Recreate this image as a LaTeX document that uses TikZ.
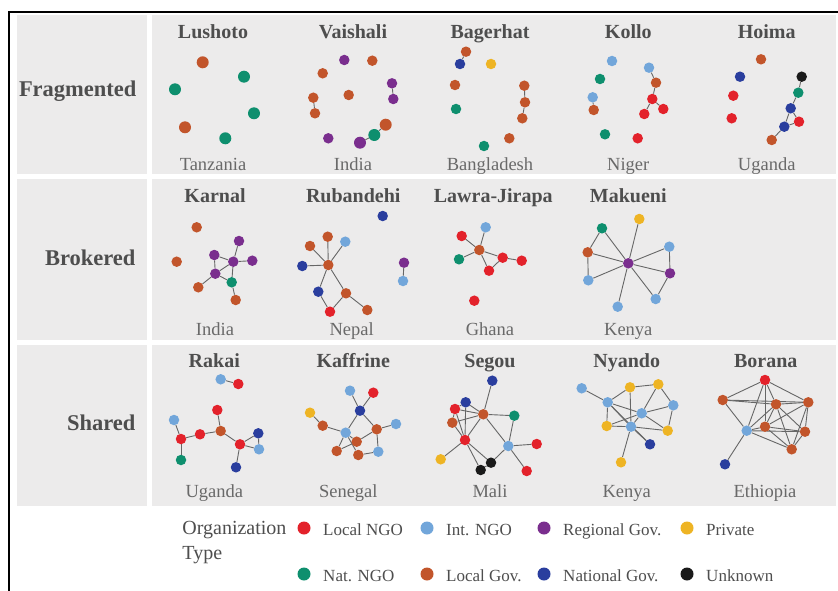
\documentclass[tikz,border=0pt]{standalone}
\usepackage{fontspec}
\setmainfont{Liberation Serif}
\usetikzlibrary{positioning}
\usepackage{xcolor}

\definecolor{lngo}{HTML}{E3222B}
\definecolor{ingo}{HTML}{72A6DA}
\definecolor{rgov}{HTML}{7A2E8E}
\definecolor{priv}{HTML}{EEB424}
\definecolor{nngo}{HTML}{0E8F6E}
\definecolor{lgov}{HTML}{C2552B}
\definecolor{ngov}{HTML}{2A3E9E}
\definecolor{unkn}{HTML}{1A1A1A}
\definecolor{panel}{HTML}{ECEBEB}
\definecolor{txt}{HTML}{4E4E4E}

\pgfdeclarelayer{back}
\pgfdeclarelayer{edges}
\pgfsetlayers{back,edges,main}

\tikzset{
  org/.style={circle, fill=#1, inner sep=0pt, minimum size=10.5pt},
  big/.style={minimum size=12pt},
  link/.style={draw=black!60, line width=0.9pt},
  title/.style={anchor=base, font=\fontsize{20}{22}\selectfont\bfseries, text=txt},
  place/.style={anchor=base, font=\fontsize{18.5}{20}\selectfont, text=txt!85},
  rowlab/.style={anchor=base east, font=\fontsize{22.5}{25}\selectfont\bfseries, text=txt},
  keydot/.style={circle, fill=#1, inner sep=0pt, minimum size=13pt},
  keytext/.style={anchor=base west, font=\fontsize{17}{19}\selectfont, text=txt},
}

\begin{document}
\begin{tikzpicture}[x=1pt, y=-1pt]
\useasboundingbox (0,0) rectangle (838,591);

% =================== panels and frame ===================
\begin{pgfonlayer}{back}
\fill[white] (0,0) rectangle (838,591);
\foreach \ya/\yb in {15/174, 179/340, 345/506}{
  \fill[panel] (17,\ya) rectangle (147,\yb);
  \fill[panel] (152,\ya) rectangle (836,\yb);
}
\draw[line width=2.5pt] (9,591) -- (9,12) -- (838,12);
\end{pgfonlayer}

\node[rowlab] (rFrag) at (140,97) {Fragmented};
\node[rowlab] (rBrok) at (139,265) {Brokered};
\node[rowlab] (rShar) at (139,430) {Shared};

% =================== Fragmented ===================

% Lushoto
\foreach \n/\x/\y/\c in {Lu1/202.7/62.3/lgov, Lu2/244/76.7/nngo, Lu3/175/89.3/nngo,
  Lu4/254/113.3/nngo, Lu5/185/127.3/lgov, Lu6/225.3/138.3/nngo}
  \node[org=\c, big] (\n) at (\x,\y) {};
\node[title] (tLu) at (213,38.5) {Lushoto};
\node[place] (cLu) at (213,171) {Tanzania};

% Vaishali
\foreach \n/\x/\y/\c in {Va1/344.3/60/rgov, Va2/372.3/60.7/lgov, Va3/322.7/73.3/lgov,
  Va4/392/83.3/rgov, Va5/393.3/99/rgov, Va6/313.3/97.7/lgov, Va7/315/113.3/lgov,
  Va8/348.7/95/lgov, Va12/328.3/138.3/rgov}
  \node[org=\c] (\n) at (\x,\y) {};
\foreach \n/\x/\y/\c in {Va9/385.7/124.7/lgov, Va10/374.3/135/nngo, Va11/360/142.7/rgov}
  \node[org=\c, big] (\n) at (\x,\y) {};
\node[title] (tVa) at (353,38.5) {Vaishali};
\node[place] (cVa) at (353,171) {India};

% Bagerhat
\foreach \n/\x/\y/\c in {Ba1/466/51.7/lgov, Ba2/460/64/ngov, Ba3/491/64/priv,
  Ba4/455/85/lgov, Ba5/456/109/nngo, Ba6/524.3/85.7/lgov, Ba7/525/102.3/lgov,
  Ba8/522.3/118.3/lgov, Ba9/509.3/138.3/lgov, Ba10/484/146/nngo}
  \node[org=\c] (\n) at (\x,\y) {};
\node[title] (tBa) at (490,38.5) {Bagerhat};
\node[place] (cBa) at (490,171) {Bangladesh};

% Kollo
\foreach \n/\x/\y/\c in {Ko1/612/61/ingo, Ko2/649/67.7/ingo, Ko3/656/82.7/lgov,
  Ko4/600/79/nngo, Ko5/592.7/97.3/ingo, Ko6/593.7/110/lgov, Ko7/652.3/99/lngo,
  Ko8/644.3/114/lngo, Ko9/663.3/109/lngo, Ko10/605/134.3/nngo, Ko11/637.7/138.3/lngo}
  \node[org=\c] (\n) at (\x,\y) {};
\node[title] (tKo) at (628.3,38.5) {Kollo};
\node[place] (cKo) at (628.3,171) {Niger};

% Hoima
\foreach \n/\x/\y/\c in {Ho1/761/59.3/lgov, Ho2/740/76.7/ngov, Ho3/801.7/76.7/unkn,
  Ho4/798.3/92.7/nngo, Ho5/733.3/95.7/lngo, Ho6/790.7/108.3/ngov, Ho7/799/121.7/lngo,
  Ho8/731.7/118.3/lngo, Ho9/784.3/126.7/ngov, Ho10/771.7/140/lgov}
  \node[org=\c] (\n) at (\x,\y) {};
\node[title] (tHo) at (766.7,38.5) {Hoima};
\node[place] (cHo) at (766.7,171) {Uganda};

% =================== Brokered ===================

% Karnal
\foreach \n/\x/\y/\c in {Ka1/196.7/227.3/lgov, Ka2/239/241/rgov, Ka3/214.3/255/rgov,
  Ka4/233.3/261.7/rgov, Ka5/252.3/260.7/rgov, Ka6/176.7/261.7/lgov, Ka7/215.3/273.7/rgov,
  Ka8/231.7/282.3/nngo, Ka9/198.3/287.3/lgov, Ka10/235.7/300/lgov}
  \node[org=\c] (\n) at (\x,\y) {};
\node[title] (tKa) at (215,202) {Karnal};
\node[place] (cKa) at (215,335) {India};

% Rubandehi
\foreach \n/\x/\y/\c in {Ru1/382.7/216/ngov, Ru2/327.7/236.7/lgov, Ru3/345.3/241.7/ingo,
  Ru4/310/246/lgov, Ru5/328.3/265/lgov, Ru6/302.3/266/ngov, Ru7/404/262.7/rgov,
  Ru8/403/281/ingo, Ru9/318.3/291.7/ngov, Ru10/346/293.3/lgov, Ru11/330/311.7/lngo,
  Ru12/367.3/310/lgov}
  \node[org=\c] (\n) at (\x,\y) {};
\node[title] (tRu) at (353.3,202) {Rubandehi};
\node[place] (cRu) at (351.7,335) {Nepal};

% Lawra-Jirapa
\foreach \n/\x/\y/\c in {LJ1/485.7/227.3/ingo, LJ2/461.7/236/lngo, LJ3/479.3/250/lgov,
  LJ4/459/259.3/nngo, LJ5/502.7/257.7/lngo, LJ6/521.7/260.7/lngo, LJ7/489/270.7/lngo,
  LJ8/474.3/300.7/lngo}
  \node[org=\c] (\n) at (\x,\y) {};
\node[title] (tLJ) at (493.3,202) {Lawra-Jirapa};
\node[place] (cLJ) at (490,335) {Ghana};

% Makueni
\foreach \n/\x/\y/\c in {Ma1/639.3/219/priv, Ma2/602/228.3/nngo, Ma3/669.3/246.7/ingo,
  Ma4/587.7/252.3/lgov, Ma5/628.3/263.3/rgov, Ma6/670/273.3/rgov, Ma7/588.3/280.3/ingo,
  Ma8/655.7/299/ingo, Ma9/617.7/306.7/ingo}
  \node[org=\c] (\n) at (\x,\y) {};
\node[title] (tMa) at (628.3,202) {Makueni};
\node[place] (cMa) at (628.3,335) {Kenya};

% =================== Shared ===================

% Rakai
\foreach \n/\x/\y/\c in {Ra1/220.7/379.3/ingo, Ra2/238.3/384/lngo, Ra3/217.3/410/lngo,
  Ra4/174/420/ingo, Ra5/220.7/431/lgov, Ra6/200/434.3/lngo, Ra7/181/439/lngo,
  Ra8/258.3/433.3/ngov, Ra9/240/444.3/lngo, Ra10/259/449.3/ingo, Ra11/181/460/nngo,
  Ra12/236/467.3/ngov}
  \node[org=\c] (\n) at (\x,\y) {};
\node[title] (tRa) at (214.3,367) {Rakai};
\node[place] (cRa) at (214.3,497) {Uganda};

% Kaffrine
\foreach \n/\x/\y/\c in {Kf1/350/390.7/ingo, Kf2/373.3/392.7/lngo, Kf3/360/410.7/ngov,
  Kf4/310/412.7/priv, Kf5/322.7/425.7/lgov, Kf6/396/424/ingo, Kf7/376.7/429.3/lgov,
  Kf8/345.7/432.7/ingo, Kf9/356.7/441.7/lgov, Kf10/336.7/451/lgov, Kf11/378.3/451.7/ingo,
  Kf12/358.3/455/lgov}
  \node[org=\c] (\n) at (\x,\y) {};
\node[title] (tKf) at (353.3,367) {Kaffrine};
\node[place] (cKf) at (348.3,497) {Senegal};

% Segou
\foreach \n/\x/\y/\c in {Se1/492.3/380.7/ngov, Se2/465.7/402.3/ngov, Se3/455/409/lngo,
  Se4/483.3/414.3/lgov, Se5/514.3/415.7/nngo, Se6/452.3/422.7/lgov, Se7/465/440/lngo,
  Se8/508.3/446/ingo, Se9/536.7/444/lngo, Se10/440.7/459.3/priv, Se11/491/462.7/unkn,
  Se12/480.7/470/unkn, Se13/526.7/471/lngo}
  \node[org=\c] (\n) at (\x,\y) {};
\node[title] (tSe) at (490,367) {Segou};
\node[place] (cSe) at (490,497) {Mali};

% Nyando
\foreach \n/\x/\y/\c in {Ny1/581.7/388.3/ingo, Ny2/630/387.3/priv, Ny3/658.3/384.3/priv,
  Ny4/607.7/402.3/ingo, Ny5/673.3/405.3/ingo, Ny6/641.7/413.3/ingo, Ny7/606.7/426/priv,
  Ny8/631/426.7/ingo, Ny9/667.7/430.7/priv, Ny10/650/444.3/ngov, Ny11/621/462.3/priv}
  \node[org=\c] (\n) at (\x,\y) {};
\node[title] (tNy) at (626.7,367) {Nyando};
\node[place] (cNy) at (626.7,497) {Kenya};

% Borana
\foreach \n/\x/\y/\c in {Bo1/765/380/lngo, Bo2/722.7/400/lgov, Bo3/776/404.3/lgov,
  Bo4/808.3/402.3/lgov, Bo5/746.7/430.7/ingo, Bo6/765/426.7/lgov, Bo7/805/431.7/lgov,
  Bo8/791.7/449.3/lgov, Bo9/725/464.3/ngov}
  \node[org=\c] (\n) at (\x,\y) {};
\node[title] (tBo) at (765.7,367) {Borana};
\node[place] (cBo) at (765,497) {Ethiopia};

% =================== ties (behind the nodes) ===================
\begin{pgfonlayer}{edges}
\foreach \a/\b in {Va4/Va5, Va6/Va7, Va9/Va10, Va10/Va11,
  Ba1/Ba2, Ba6/Ba7, Ba7/Ba8,
  Ko2/Ko3, Ko3/Ko7, Ko7/Ko8, Ko7/Ko9, Ko5/Ko6,
  Ho3/Ho4, Ho4/Ho6, Ho6/Ho7, Ho6/Ho9, Ho7/Ho9, Ho9/Ho10}
  \draw[link] (\a) -- (\b);
\foreach \a/\b in {Ka4/Ka2, Ka4/Ka3, Ka4/Ka5, Ka4/Ka7, Ka4/Ka8, Ka3/Ka7, Ka7/Ka8, Ka7/Ka9, Ka8/Ka10,
  Ru5/Ru2, Ru5/Ru3, Ru5/Ru4, Ru5/Ru6, Ru5/Ru9, Ru5/Ru10, Ru9/Ru11, Ru11/Ru10, Ru10/Ru12, Ru7/Ru8,
  LJ3/LJ1, LJ3/LJ2, LJ3/LJ4, LJ3/LJ5, LJ3/LJ7, LJ5/LJ6, LJ7/LJ5,
  Ma5/Ma1, Ma5/Ma2, Ma5/Ma3, Ma5/Ma4, Ma5/Ma6, Ma5/Ma7, Ma5/Ma8, Ma5/Ma9,
  Ma2/Ma4, Ma4/Ma7, Ma3/Ma6, Ma6/Ma8}
  \draw[link] (\a) -- (\b);
\foreach \a/\b in {Ra1/Ra2, Ra3/Ra5, Ra4/Ra7, Ra7/Ra6, Ra6/Ra5, Ra5/Ra9, Ra9/Ra8, Ra9/Ra10,
  Ra8/Ra10, Ra7/Ra11, Ra9/Ra12,
  Kf1/Kf3, Kf2/Kf3, Kf3/Kf8, Kf3/Kf7, Kf4/Kf5, Kf5/Kf8, Kf7/Kf6, Kf7/Kf9, Kf7/Kf11,
  Kf8/Kf9, Kf8/Kf10, Kf8/Kf12, Kf9/Kf10, Kf12/Kf11}
  \draw[link] (\a) -- (\b);
\foreach \a/\b in {Se4/Se1, Se4/Se2, Se4/Se3, Se4/Se6, Se4/Se5, Se4/Se7, Se4/Se8, Se2/Se3,
  Se3/Se6, Se3/Se7, Se2/Se7, Se6/Se7, Se7/Se10, Se7/Se12, Se7/Se11, Se8/Se11, Se8/Se5,
  Se8/Se9, Se8/Se13, Se11/Se12,
  Ny1/Ny4, Ny4/Ny2, Ny2/Ny3, Ny4/Ny6, Ny4/Ny8, Ny4/Ny7, Ny4/Ny10, Ny2/Ny8, Ny3/Ny6,
  Ny3/Ny5, Ny5/Ny6, Ny5/Ny9, Ny6/Ny7, Ny6/Ny8, Ny6/Ny9, Ny8/Ny7, Ny8/Ny11, Ny8/Ny9, Ny8/Ny10}
  \draw[link] (\a) -- (\b);
\foreach \a/\b in {Bo1/Bo2, Bo1/Bo3, Bo1/Bo4, Bo1/Bo5, Bo1/Bo6, Bo2/Bo3, Bo2/Bo4, Bo2/Bo5,
  Bo3/Bo4, Bo3/Bo5, Bo3/Bo6, Bo3/Bo7, Bo3/Bo8, Bo4/Bo6, Bo4/Bo7, Bo4/Bo8, Bo5/Bo6,
  Bo5/Bo7, Bo5/Bo8, Bo6/Bo7, Bo6/Bo8, Bo7/Bo8, Bo5/Bo9}
  \draw[link] (\a) -- (\b);
\end{pgfonlayer}

% =================== legend ===================
\node[anchor=base east, font=\fontsize{20}{22}\selectfont, text=txt] (kOrg) at (290,534) {Organization};
\node[anchor=base west, font=\fontsize{20}{22}\selectfont, text=txt] (kType) at (kOrg.base west |- 0,559) {Type};
\foreach \n/\x/\y/\c/\t in {k1/304/528/lngo/Local NGO, k2/427/528/ingo/Int. NGO,
  k3/544/528/rgov/Regional Gov., k4/687/528/priv/Private,
  k5/304/574/nngo/Nat. NGO, k6/427/574/lgov/Local Gov.,
  k7/544/574/ngov/National Gov., k8/687/574/unkn/Unknown}{
  \node[keydot=\c] (\n) at (\x,\y) {};
  \node[keytext] (\n t) at ([xshift=9pt]\n.east |- 0,\y+7) {\t};
}

\end{tikzpicture}
\end{document}
